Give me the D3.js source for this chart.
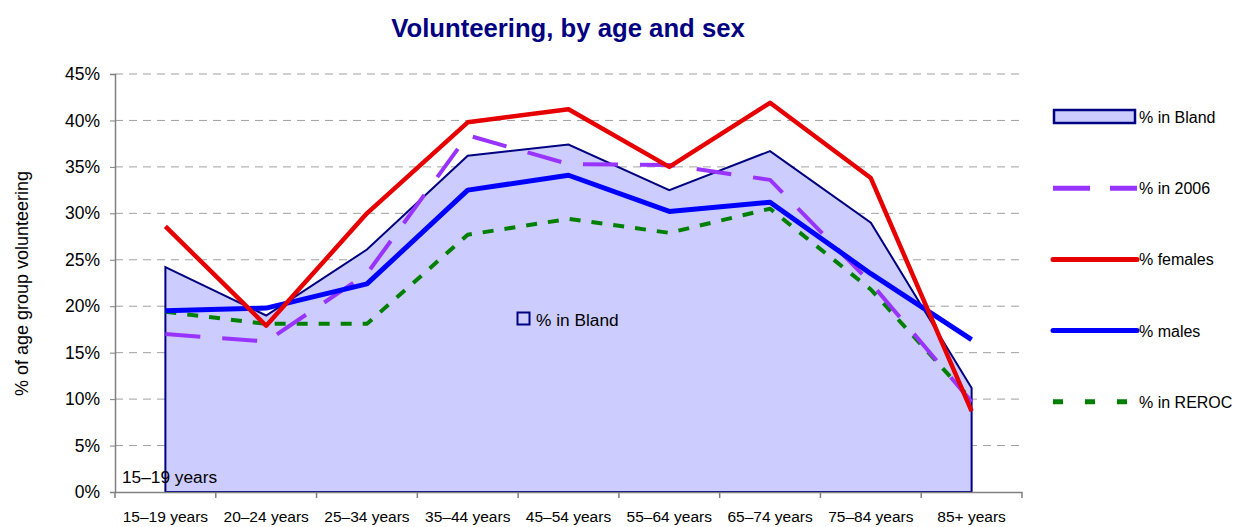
<!DOCTYPE html>
<html>
<head>
<meta charset="utf-8">
<script src="https://cdn.jsdelivr.net/npm/d3@7"></script>
<style>
  body { margin: 0; background: #fff; }
  text { font-family: "Liberation Sans", Arial, sans-serif; fill: #000; }
</style>
</head>
<body>
<div id="chart"></div>
<script>

var ageGroups = ["15–19 years", "20–24 years", "25–34 years", "35–44 years", "45–54 years",
                 "55–64 years", "65–74 years", "75–84 years", "85+ years"];

// values in percent
var bland   = [24.2, 19.0, 26.1, 36.2, 37.4, 32.5, 36.7, 29.0, 11.2];
var in2006  = [17.0, 16.2, 23.5, 38.4, 35.3, 35.2, 33.6, 22.5, 9.7];
var females = [28.6, 17.9, 30.0, 39.8, 41.2, 35.0, 41.9, 33.8, 8.7];
var males   = [19.5, 19.8, 22.4, 32.5, 34.1, 30.2, 31.2, 23.5, 16.4];
var reroc   = [19.4, 18.1, 18.1, 27.7, 29.4, 27.9, 30.5, 21.8, 9.9];

var yTicks = [0, 5, 10, 15, 20, 25, 30, 35, 40, 45];

var W = 1234, H = 527;
var plot = {left: 115, right: 1022, top: 74, bottom: 492};

var svg = d3.select("#chart").append("svg")
  .attr("width", W)
  .attr("height", H);

var x = d3.scaleBand().domain(ageGroups).range([plot.left, plot.right]).padding(0);
var y = d3.scaleLinear().domain([0, 45]).range([plot.bottom, plot.top]);
var cx = function(d, i) { return x(ageGroups[i]) + x.bandwidth() / 2; };

// title
svg.append("text")
  .attr("x", 568)
  .attr("y", 37)
  .attr("text-anchor", "middle")
  .style("font-size", "25.7px")
  .style("font-weight", "bold")
  .style("fill", "#000080")
  .text("Volunteering, by age and sex");

// gridlines
svg.append("g")
  .selectAll("line")
  .data(yTicks.filter(function(t) { return t > 0; }))
  .enter().append("line")
    .attr("x1", plot.left)
    .attr("x2", plot.right)
    .attr("y1", function(d) { return y(d); })
    .attr("y2", function(d) { return y(d); })
    .attr("stroke", "#a0a0a0")
    .attr("stroke-width", 1)
    .attr("stroke-dasharray", "8,6");

// Bland area
var area = d3.area()
  .x(cx)
  .y0(y(0))
  .y1(function(d) { return y(d); });

svg.append("path")
  .datum(bland)
  .attr("d", area)
  .attr("fill", "#ccccff")
  .attr("stroke", "#000080")
  .attr("stroke-width", 2)
  .attr("stroke-linejoin", "miter");

var line = d3.line().x(cx).y(function(d) { return y(d); });

var series = [
  {vals: reroc,   color: "#008000", width: 4, dash: "11,11"},
  {vals: in2006,  color: "#9933ff", width: 4, dash: "35,22"},
  {vals: males,   color: "#0000ff", width: 5, dash: null},
  {vals: females, color: "#e60000", width: 4.5, dash: null}
];

series.forEach(function(s) {
  svg.append("path")
    .datum(s.vals)
    .attr("d", line)
    .attr("fill", "none")
    .attr("stroke", s.color)
    .attr("stroke-width", s.width)
    .attr("stroke-linejoin", "round")
    .attr("stroke-dasharray", s.dash);
});

// axes
var yAxis = d3.axisLeft(y)
  .tickValues(yTicks)
  .tickSize(5)
  .tickPadding(10)
  .tickFormat(function(d) { return d + "%"; });

var gy = svg.append("g")
  .attr("transform", "translate(" + plot.left + ",0)")
  .call(yAxis);
gy.select(".domain").attr("stroke", "#808080").attr("stroke-width", 1.5);
gy.selectAll(".tick line").attr("stroke", "#808080");
gy.selectAll(".tick text")
  .style("font-size", "17.5px")
  .style("font-family", "'Liberation Sans', Arial, sans-serif");

var xAxis = d3.axisBottom(x).tickSize(0).tickPadding(19);
var gx = svg.append("g")
  .attr("transform", "translate(0," + plot.bottom + ")")
  .call(xAxis);
gx.select(".domain").attr("stroke", "#808080").attr("stroke-width", 1.5);
gx.selectAll(".tick text")
  .style("font-size", "15.5px")
  .style("font-family", "'Liberation Sans', Arial, sans-serif")
  .attr("dy", "0.71em");

// category boundary ticks
var bounds = ageGroups.map(function(c) { return x(c); }).concat([plot.right]);
svg.append("g")
  .selectAll("line")
  .data(bounds)
  .enter().append("line")
    .attr("x1", function(d) { return d; })
    .attr("x2", function(d) { return d; })
    .attr("y1", plot.bottom)
    .attr("y2", plot.bottom + 6)
    .attr("stroke", "#808080")
    .attr("stroke-width", 1.5);

// y axis title
svg.append("text")
  .attr("transform", "translate(28,283.5) rotate(-90)")
  .attr("text-anchor", "middle")
  .style("font-size", "18px")
  .text("% of age group volunteering");

// in-plot labels
svg.append("rect")
  .attr("x", 517.5).attr("y", 312.5)
  .attr("width", 12).attr("height", 12)
  .attr("fill", "#ccccff")
  .attr("stroke", "#000080")
  .attr("stroke-width", 2);
svg.append("text")
  .attr("x", 536).attr("y", 326)
  .style("font-size", "17.3px")
  .text("% in Bland");

svg.append("text")
  .attr("x", 122).attr("y", 483)
  .style("font-size", "17.3px")
  .text("15–19 years");

// legend
var legendItems = [
  {label: "% in Bland",  type: "box"},
  {label: "% in 2006",   type: "line", color: "#9933ff", width: 5, dash: "37,20"},
  {label: "% females",   type: "line", color: "#e60000", width: 5, dash: null},
  {label: "% males",     type: "line", color: "#0000ff", width: 5, dash: null},
  {label: "% in REROC",  type: "line", color: "#008000", width: 5, dash: "10,22"}
];

var lg = svg.append("g").attr("transform", "translate(1053,117)");
legendItems.forEach(function(d, i) {
  var g = lg.append("g").attr("transform", "translate(0," + (i * 71.2) + ")");
  if (d.type === "box") {
    g.append("rect")
      .attr("x", 1).attr("y", -7)
      .attr("width", 81).attr("height", 13)
      .attr("fill", "#ccccff")
      .attr("stroke", "#000080")
      .attr("stroke-width", 2.5);
  } else {
    g.append("line")
      .attr("x1", 0).attr("x2", 84)
      .attr("y1", 0).attr("y2", 0)
      .attr("stroke", d.color)
      .attr("stroke-width", d.width)
      .attr("stroke-linecap", d.dash ? "butt" : "round")
      .attr("stroke-dasharray", d.dash);
  }
  g.append("text")
    .attr("x", 86).attr("y", 6)
    .style("font-size", "16px")
    .text(d.label);
});

</script>
</body>
</html>
